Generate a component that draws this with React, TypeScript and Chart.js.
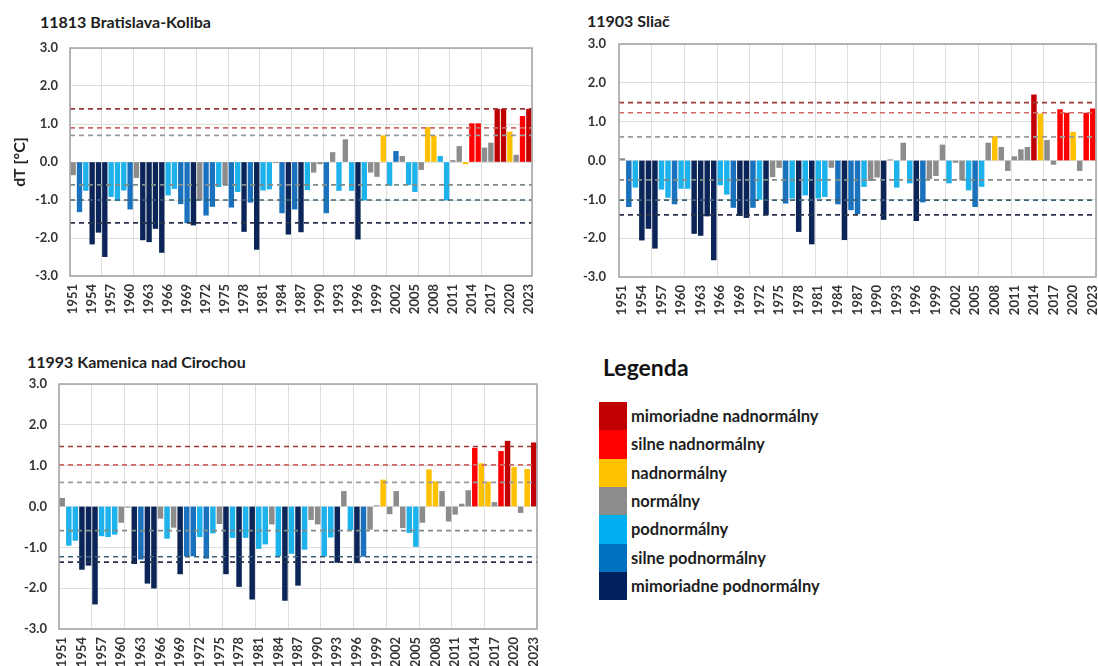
import React, { useEffect, useRef } from "react";
import { Chart, registerables } from "chart.js";
Chart.register(...registerables);

const FONT = "Lato, 'Open Sans', sans-serif";

const years = [
  "1951","1952","1953","1954","1955","1956","1957","1958","1959","1960",
  "1961","1962","1963","1964","1965","1966","1967","1968","1969","1970",
  "1971","1972","1973","1974","1975","1976","1977","1978","1979","1980",
  "1981","1982","1983","1984","1985","1986","1987","1988","1989","1990",
  "1991","1992","1993","1994","1995","1996","1997","1998","1999","2000",
  "2001","2002","2003","2004","2005","2006","2007","2008","2009","2010",
  "2011","2012","2013","2014","2015","2016","2017","2018","2019","2020",
  "2021","2022","2023",
];

// 11813 Bratislava-Koliba
const bratislavaValues = [
  -0.34, -1.31, -0.75, -2.16, -1.85, -2.49, -0.91, -1.02, -0.74, -1.24,
  -0.41, -2.05, -2.10, -1.75, -2.38, -0.87, -0.70, -1.10, -1.60, -1.66,
  -1.00, -1.40, -1.17, -0.65, -0.60, -1.19, -0.78, -1.83, -1.06, -2.30,
  -0.74, -0.71, -0.02, -1.34, -1.90, -1.24, -1.84, -0.73, -0.27, -0.05,
  -1.34, 0.25, -0.75, 0.59, -0.75, -2.03, -1.00, -0.27, -0.38, 0.69,
  -0.62, 0.28, 0.15, -0.60, -0.78, -0.20, 0.91, 0.69, 0.15, -1.00,
  0.04, 0.41, -0.05, 1.01, 1.01, 0.37, 0.50, 1.39, 1.39, 0.79,
  0.18, 1.20, 1.39,
];
const bratislavaClasses = [
  "g","m","l","n","n","n","l","l","l","m",
  "g","n","n","n","n","l","l","m","m","n",
  "g","m","m","l","g","m","l","n","m","n",
  "l","l","g","m","n","m","n","l","g","g",
  "m","g","l","g","l","n","l","g","g","y",
  "l","m","g","l","l","g","y","y","l","l",
  "g","g","y","r","r","g","g","d","d","y",
  "g","r","d",
];
const bratislavaThresholds = [1.4, 0.9, 0.7, -0.6, -1.0, -1.6];

// 11903 Sliač
const sliacValues = [
  0.05, -1.19, -0.69, -2.05, -1.75, -2.26, -0.74, -0.95, -1.12, -0.72,
  -0.72, -1.88, -1.93, -1.43, -2.56, -0.63, -0.87, -1.21, -1.42, -1.47,
  -1.21, -1.00, -1.40, -0.42, -0.18, -1.10, -0.97, -1.83, -0.89, -2.15,
  -0.97, -0.93, -0.18, -1.12, -2.04, -1.27, -1.37, -0.67, -0.52, -0.43,
  -1.52, 0.02, -0.69, 0.45, -0.58, -1.55, -1.07, -0.47, -0.39, 0.40,
  -0.58, -0.05, -0.50, -0.76, -1.19, -0.67, 0.45, 0.62, 0.34, -0.26,
  0.10, 0.28, 0.34, 1.69, 1.20, 0.52, -0.10, 1.31, 1.22, 0.73,
  -0.26, 1.22, 1.33,
];
const sliacClasses = [
  "g","m","l","n","n","n","l","l","m","l",
  "l","n","n","n","n","l","l","m","n","n",
  "m","l","n","g","g","m","l","n","l","n",
  "l","l","g","m","n","m","m","l","g","g",
  "n","g","l","g","l","n","m","g","g","g",
  "l","g","g","l","m","l","g","y","g","g",
  "g","g","g","d","y","g","g","r","r","y",
  "g","r","r",
];
const sliacThresholds = [1.49, 1.23, 0.61, -0.5, -1.02, -1.4];

// 11993 Kamenica nad Cirochou
const kamenicaValues = [
  0.20, -0.95, -0.83, -1.54, -1.44, -2.39, -0.72, -0.74, -0.68, -0.39,
  -0.02, -1.40, -1.29, -1.88, -2.00, -0.29, -0.78, -0.51, -1.65, -1.21,
  -1.21, -0.74, -1.27, -0.65, -0.42, -1.65, -0.76, -1.96, -0.76, -2.27,
  -1.03, -0.92, -0.43, -1.21, -2.30, -1.15, -1.93, -1.05, -0.32, -0.43,
  -1.22, -0.75, -1.37, 0.37, -0.57, -1.38, -1.22, -0.56, 0.02, 0.65,
  -0.18, 0.37, -0.52, -0.64, -0.98, -0.39, 0.90, 0.61, 0.37, -0.36,
  -0.19, 0.06, 0.39, 1.43, 1.05, 0.60, 0.10, 1.35, 1.60, 0.96,
  -0.15, 0.91, 1.56,
];
const kamenicaClasses = [
  "g","l","l","n","n","n","l","l","l","g",
  "g","n","m","n","n","g","l","g","n","m",
  "m","l","m","l","g","n","l","n","l","n",
  "l","l","g","l","n","l","n","l","g","g",
  "l","l","n","g","l","n","m","g","g","y",
  "g","g","g","l","l","g","y","y","g","g",
  "g","g","g","r","y","y","g","r","d","y",
  "g","y","d",
];
const kamenicaThresholds = [1.47, 1.02, 0.59, -0.59, -1.23, -1.36];

const legendLabels = [
  "mimoriadne nadnormálny",
  "silne nadnormálny",
  "nadnormálny",
  "normálny",
  "podnormálny",
  "silne podnormálny",
  "mimoriadne podnormálny",
];
const legendColors = ["#c00000", "#ff0000", "#ffc000", "#8c8c8c", "#00b0f0", "#0070c0", "#002060"];

const classColors: Record<string, string> = {
  d: "#c00000",
  r: "#ff0000",
  y: "#ffc000",
  g: "#8c8c8c",
  l: "#1db2ec",
  m: "#1a72bf",
  n: "#0b2558",
};
const thresholdColors = ["#9b3838", "#d06868", "#9a9a9a", "#7c8c88", "#3d6275", "#29334a"];

const framePlugin = {
  id: "frame",
  afterDraw(chart: any) {
    const { ctx, chartArea: a } = chart;
    ctx.save();
    ctx.strokeStyle = "#a3a3a3";
    ctx.lineWidth = 1.5;
    ctx.strokeRect(a.left, a.top, a.right - a.left, a.bottom - a.top);
    ctx.restore();
  },
};

function zeroPad(s: any) {
  s.paddingLeft = 0;
  s.paddingRight = 0;
  s.paddingTop = 0;
  s.paddingBottom = 0;
}

type Props = {
  values: number[];
  classes: string[];
  thresholds: number[];
  left: number;
  top: number;
  width: number;
  height: number;
  padTop: number;
  padRight: number;
  yWidth: number;
  xHeight: number;
  yPad: number;
  yTitle?: string;
};

function StationChart(p: Props) {
  const ref = useRef<HTMLCanvasElement>(null);
  useEffect(() => {
    const plotWidth = p.width - p.yWidth - p.padRight;
    const barW = (plotWidth / years.length) * 0.74;
    const lineSets = p.thresholds.map((t, k) => ({
      type: "line" as const,
      data: [
        { x: 0, y: t },
        { x: years.length, y: t },
      ],
      xAxisID: "xg",
      yAxisID: "y",
      borderColor: thresholdColors[k],
      borderWidth: 1.7,
      borderDash: [5, 4],
      pointRadius: 0,
      fill: false,
      order: 0,
    }));
    const chart = new Chart(ref.current!, {
      type: "bar",
      data: {
        labels: years,
        datasets: [
          ...lineSets,
          {
            type: "bar" as const,
            data: p.values,
            backgroundColor: p.classes.map((c) => classColors[c]),
            barThickness: barW,
            grouped: false,
            xAxisID: "x",
            yAxisID: "y",
            order: 1,
          },
        ] as any,
      },
      options: {
        animation: false,
        responsive: false,
        layout: { padding: { top: p.padTop, right: p.padRight, left: 0, bottom: 0 } },
        plugins: { legend: { display: false }, tooltip: { enabled: false }, title: { display: false } },
        scales: {
          x: {
            type: "category",
            offset: true,
            grid: { display: false, drawTicks: false, offset: true },
            border: { display: false },
            ticks: {
              autoSkip: false,
              maxRotation: 90,
              minRotation: 90,
              padding: 8,
              color: "#333",
              font: { family: FONT, size: 13, weight: "bold" },
              callback: function (this: any, v: any, i: number) {
                return i % 3 === 0 ? this.getLabelForValue(v) : "";
              },
            },
            afterFit: (s: any) => {
              s.height = p.xHeight;
              zeroPad(s);
            },
          },
          xg: {
            type: "linear",
            position: "top",
            offset: false,
            min: 0,
            max: years.length,
            grid: { color: "#dedede", drawTicks: false, offset: false },
            border: { display: false },
            ticks: { display: false, stepSize: 5 },
            afterFit: (s: any) => {
              s.height = 0;
              zeroPad(s);
            },
          },
          y: {
            min: -3,
            max: 3,
            grid: { color: "#dedede", drawTicks: false },
            border: { display: false },
            ticks: {
              stepSize: 1,
              padding: p.yPad,
              color: "#333",
              font: { family: FONT, size: 13, weight: "bold" },
              callback: (v: any) => Number(v).toFixed(1),
            },
            title: p.yTitle
              ? {
                  display: true,
                  text: p.yTitle,
                  color: "#222",
                  font: { family: FONT, size: 16, weight: "bold" },
                  padding: { top: 10, bottom: 0 },
                }
              : { display: false },
            afterFit: (s: any) => {
              s.width = p.yWidth;
              zeroPad(s);
            },
          },
        },
      } as any,
      plugins: [framePlugin],
    });
    return () => chart.destroy();
  }, []);
  return (
    <canvas
      ref={ref}
      width={p.width}
      height={p.height}
      style={{ position: "absolute", left: p.left, top: p.top, width: p.width, height: p.height }}
    />
  );
}

const titleStyle: React.CSSProperties = {
  position: "absolute",
  fontFamily: FONT,
  fontWeight: 700,
  fontSize: 16,
  lineHeight: "20px",
  color: "#1e1e1e",
  whiteSpace: "nowrap",
};

export default function App() {
  return (
    <div
      style={{
        position: "fixed",
        left: 0,
        top: 0,
        width: 1098,
        height: 666,
        background: "#ffffff",
        overflow: "hidden",
      }}
    >
      <div style={{ ...titleStyle, left: 40, top: 12 }}>11813 Bratislava-Koliba</div>
      <div style={{ ...titleStyle, left: 587, top: 11 }}>11903 Sliač</div>
      <div style={{ ...titleStyle, left: 27, top: 352 }}>11993 Kamenica nad Cirochou</div>

      <StationChart
        values={bratislavaValues}
        classes={bratislavaClasses}
        thresholds={bratislavaThresholds}
        left={0}
        top={40}
        width={540}
        height={285}
        padTop={8}
        padRight={8}
        yWidth={70}
        xHeight={49}
        yPad={12}
        yTitle="dT [°C]"
      />
      <StationChart
        values={sliacValues}
        classes={sliacClasses}
        thresholds={sliacThresholds}
        left={560}
        top={35}
        width={538}
        height={290}
        padTop={9}
        padRight={2}
        yWidth={59}
        xHeight={48}
        yPad={13}
      />
      <StationChart
        values={kamenicaValues}
        classes={kamenicaClasses}
        thresholds={kamenicaThresholds}
        left={0}
        top={375}
        width={545}
        height={291}
        padTop={9}
        padRight={8}
        yWidth={59}
        xHeight={37}
        yPad={12}
      />

      <div
        style={{
          position: "absolute",
          left: 603,
          top: 353,
          fontFamily: FONT,
          fontWeight: 700,
          fontSize: 23,
          lineHeight: "28px",
          color: "#111",
        }}
      >
        Legenda
      </div>
      {legendLabels.map((lab, k) => (
        <React.Fragment key={lab}>
          <div
            style={{
              position: "absolute",
              left: 599,
              top: 402 + k * 28.3,
              width: 28,
              height: 28.4,
              background: legendColors[k],
            }}
          />
          <div
            style={{
              position: "absolute",
              left: 631,
              top: 402 + k * 28.3 + 2,
              fontFamily: FONT,
              fontWeight: 700,
              fontSize: 16.5,
              lineHeight: "24px",
              color: "#1e1e1e",
              whiteSpace: "nowrap",
            }}
          >
            {lab}
          </div>
        </React.Fragment>
      ))}
    </div>
  );
}
